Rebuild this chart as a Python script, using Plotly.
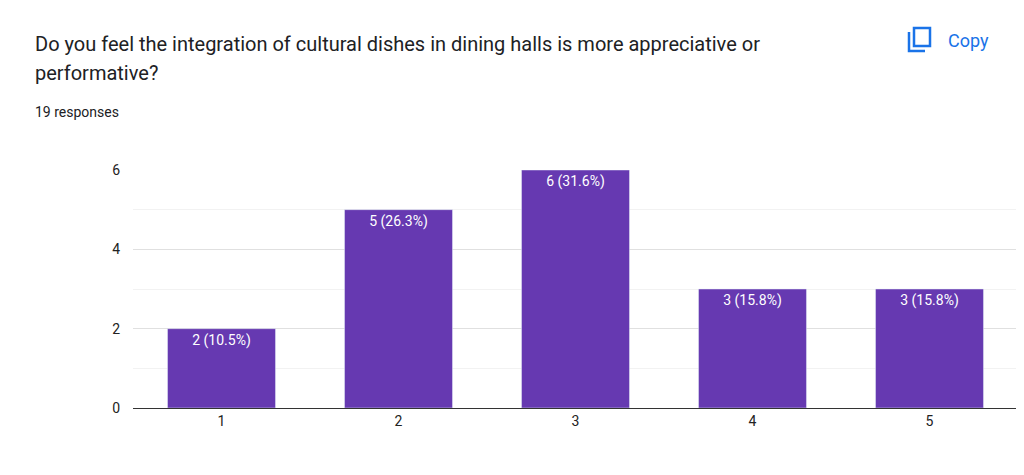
import plotly.graph_objects as go

categories = ["1", "2", "3", "4", "5"]
counts = [2, 5, 6, 3, 3]
labels = ["2 (10.5%)", "5 (26.3%)", "6 (31.6%)", "3 (15.8%)", "3 (15.8%)"]

# the page draws everything about 8px right and down, so shift the margins
OFF = 8
L, R, T, B = 133 - OFF, 6 + OFF, 170 - OFF, 67 + OFF
W, H = 1024, 475
pw, ph = W - L - R, H - T - B


def px_x(x):
    return (x - OFF - L) / pw


def px_y(y):
    return (H - B - (y - OFF)) / ph


fig = go.Figure(go.Bar(
    x=categories, y=counts, text=labels, textposition="inside",
    insidetextanchor="end", textangle=0,
    textfont=dict(color="white", size=14, family="Roboto, Arial"),
    marker=dict(color="#6639b1"), width=0.61, cliponaxis=False,
))

fig.update_layout(
    width=W, height=H, margin=dict(l=L, r=R, t=T, b=B),
    paper_bgcolor="white", plot_bgcolor="white", showlegend=False,
    font=dict(family="Roboto, Arial", color="#222"),
    xaxis=dict(showline=True, linecolor="#333", linewidth=1, ticks="",
               tickfont=dict(size=14, color="#222")),
    yaxis=dict(range=[0, 6], tickvals=[0, 2, 4, 6], showgrid=True,
               gridcolor="#e0e0e0", zeroline=False, tickfont=dict(size=14, color="#222"),
               minor=dict(tickvals=[1, 3, 5], showgrid=True, gridcolor="#f2f2f2"),
               ticklabelstandoff=12),
)

fig.add_annotation(xref="paper", yref="paper", x=px_x(33), y=px_y(44), xanchor="left",
                   yanchor="middle", showarrow=False, align="left",
                   text="Do you feel the integration of cultural dishes in dining halls is more appreciative or",
                   font=dict(size=20, color="#202124"))
fig.add_annotation(xref="paper", yref="paper", x=px_x(33), y=px_y(73), xanchor="left",
                   yanchor="middle", showarrow=False, text="performative?",
                   font=dict(size=20, color="#202124"))
fig.add_annotation(xref="paper", yref="paper", x=px_x(33), y=px_y(112), xanchor="left",
                   yanchor="middle", showarrow=False, text="19 responses",
                   font=dict(size=14, color="#202124"))
fig.add_annotation(xref="paper", yref="paper", x=px_x(946), y=px_y(40), xanchor="left",
                   yanchor="middle", showarrow=False, text="Copy",
                   font=dict(size=18, color="#1a73e8"))
# copy icon
fig.add_shape(type="path", xref="paper", yref="paper",
              path=f"M {px_x(909)} {px_y(32)} L {px_x(909)} {px_y(51)} L {px_x(925)} {px_y(51)}",
              line=dict(color="#1a73e8", width=2.5))
fig.add_shape(type="rect", xref="paper", yref="paper",
              x0=px_x(914), x1=px_x(930), y0=px_y(28), y1=px_y(46),
              line=dict(color="#1a73e8", width=2.5), fillcolor="white")

fig.write_html("out.html")
